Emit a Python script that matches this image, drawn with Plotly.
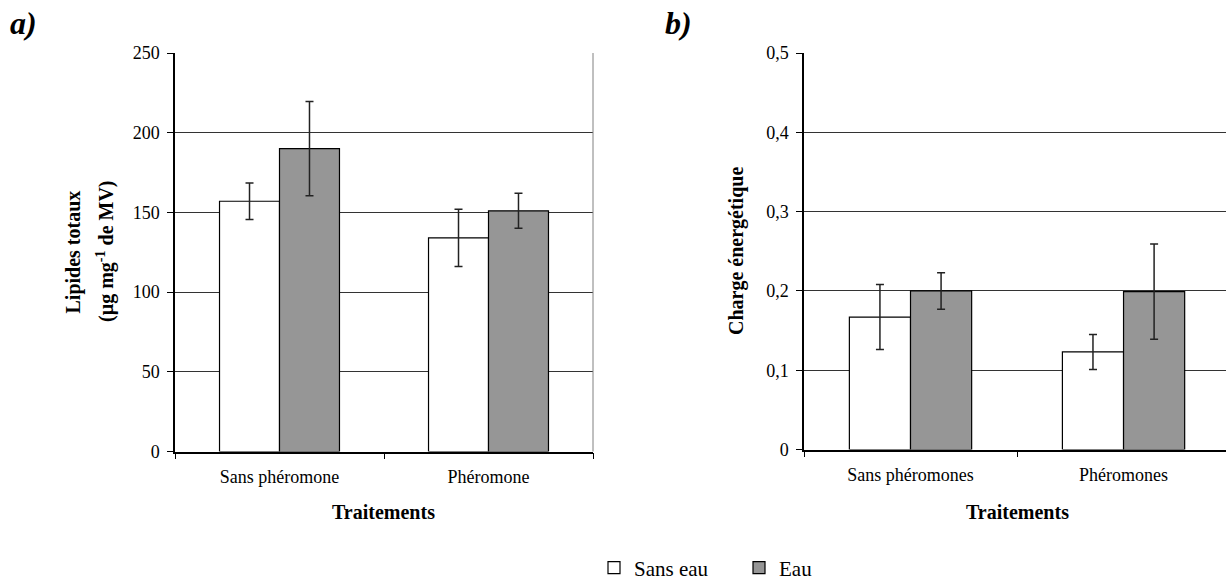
import plotly.graph_objects as go

# ---- Data ----
cats_a = ["Sans phéromone", "Phéromone"]
sans_eau_a = [157, 134]
sans_eau_a_err = [11.5, 18]
eau_a = [190, 151]
eau_a_err = [29.5, 11]

cats_b = ["Sans phéromones", "Phéromones"]
sans_eau_b = [0.167, 0.123]
sans_eau_b_err = [0.041, 0.022]
eau_b = [0.200, 0.199]
eau_b_err = [0.023, 0.060]

yticks_a = [0, 50, 100, 150, 200, 250]
yticks_b = [0, 0.1, 0.2, 0.3, 0.4, 0.5]
yticktext_b = ["0", "0,1", "0,2", "0,3", "0,4", "0,5"]

series_names = ["Sans eau", "Eau"]

W, H = 1226, 580
FONT = "Liberation Serif"
WHITE = "#ffffff"
GRAY = "#969696"

def px_x(p):
    return p / W

def px_y(p):
    return 1 - p / H

fig = go.Figure()

err_style = dict(type="data", color="#222222", thickness=1.5, width=4, visible=True)

fig.add_trace(go.Bar(x=cats_a, y=sans_eau_a, name=series_names[0],
                     marker=dict(color=WHITE, line=dict(color="#000", width=1.2)),
                     error_y=dict(array=sans_eau_a_err, **err_style),
                     xaxis="x", yaxis="y", legendgroup="se"))
fig.add_trace(go.Bar(x=cats_a, y=eau_a, name=series_names[1],
                     marker=dict(color=GRAY, line=dict(color="#000", width=1.2)),
                     error_y=dict(array=eau_a_err, **err_style),
                     xaxis="x", yaxis="y", legendgroup="e"))
fig.add_trace(go.Bar(x=cats_b, y=sans_eau_b, name=series_names[0], showlegend=False,
                     marker=dict(color=WHITE, line=dict(color="#000", width=1.2)),
                     error_y=dict(array=sans_eau_b_err, **err_style),
                     xaxis="x2", yaxis="y2", legendgroup="se"))
fig.add_trace(go.Bar(x=cats_b, y=eau_b, name=series_names[1], showlegend=False,
                     marker=dict(color=GRAY, line=dict(color="#000", width=1.2)),
                     error_y=dict(array=eau_b_err, **err_style),
                     xaxis="x2", yaxis="y2", legendgroup="e"))

tickfont = dict(family=FONT, size=18, color="#000")
titlefont = dict(family=FONT, size=20, color="#000", weight="bold")

xcommon = dict(type="category", showline=True, linecolor="#000", linewidth=1.5,
               ticks="outside", ticklen=6, tickcolor="#000", tickson="boundaries",
               tickfont=tickfont, showgrid=False, zeroline=False, fixedrange=True,
               ticklabelstandoff=8, automargin=False)
ycommon = dict(showline=True, linecolor="#000", linewidth=1.5, ticks="outside", ticklen=6,
               tickcolor="#000", tickfont=tickfont, showgrid=True, gridcolor="#333333",
               gridwidth=1, zeroline=False, fixedrange=True, ticklabelstandoff=4,
               automargin=False)

fig.update_layout(
    width=W, height=H,
    margin=dict(l=0, r=0, t=0, b=0, autoexpand=False),
    paper_bgcolor="white", plot_bgcolor="white",
    barmode="group", bargap=0.426, bargroupgap=0,
    font=dict(family=FONT, color="#000"),
    xaxis=dict(domain=[px_x(175), px_x(593)], anchor="y", range=[-0.5, 1.5], **xcommon),
    yaxis=dict(domain=[px_y(451.5), px_y(53)], anchor="x", range=[0, 250],
               tickvals=yticks_a, **ycommon),
    xaxis2=dict(domain=[px_x(804), 1.0], anchor="y2", range=[-0.5, 1.481], **xcommon),
    yaxis2=dict(domain=[px_y(449.5), px_y(53)], anchor="x2", range=[0, 0.5],
                tickvals=yticks_b, ticktext=yticktext_b, **ycommon),
    showlegend=True,
    legend=dict(orientation="h", x=px_x(594), xanchor="left", y=px_y(568), yanchor="middle",
                font=dict(family=FONT, size=21, color="#000"),
                entrywidth=100, entrywidthmode="pixels", bgcolor="rgba(0,0,0,0)",
                itemclick=False, itemdoubleclick=False, traceorder="normal"),
)

annotations = [
    dict(text="a)", x=px_x(8), y=px_y(23), xanchor="left", yanchor="middle",
         font=dict(family=FONT, size=32, weight="bold", style="italic")),
    dict(text="b)", x=px_x(663), y=px_y(23), xanchor="left", yanchor="middle",
         font=dict(family=FONT, size=32, weight="bold", style="italic")),
    dict(text="Lipides totaux", x=px_x(72.5), y=px_y(252), textangle=-90,
         xanchor="center", yanchor="middle", font=titlefont),
    dict(text="(µg mg<sup>-1</sup> de MV)", x=px_x(105), y=px_y(251), textangle=-90,
         xanchor="center", yanchor="middle", font=titlefont),
    dict(text="Charge énergétique", x=px_x(736), y=px_y(251), textangle=-90,
         xanchor="center", yanchor="middle", font=titlefont),
    dict(text="Traitements", x=px_x(384), y=px_y(512), xanchor="center", yanchor="middle",
         font=titlefont),
    dict(text="Traitements", x=px_x(1017), y=px_y(512), xanchor="center", yanchor="middle",
         font=titlefont),
]
for a in annotations:
    a.update(xref="paper", yref="paper", showarrow=False)
fig.update_layout(annotations=annotations)

# right border of panel a
fig.add_shape(type="line", xref="x domain", yref="y domain", x0=1, x1=1, y0=0, y1=1,
              line=dict(color="#808080", width=1))

fig.write_html("out.html", config={"displayModeBar": False})
